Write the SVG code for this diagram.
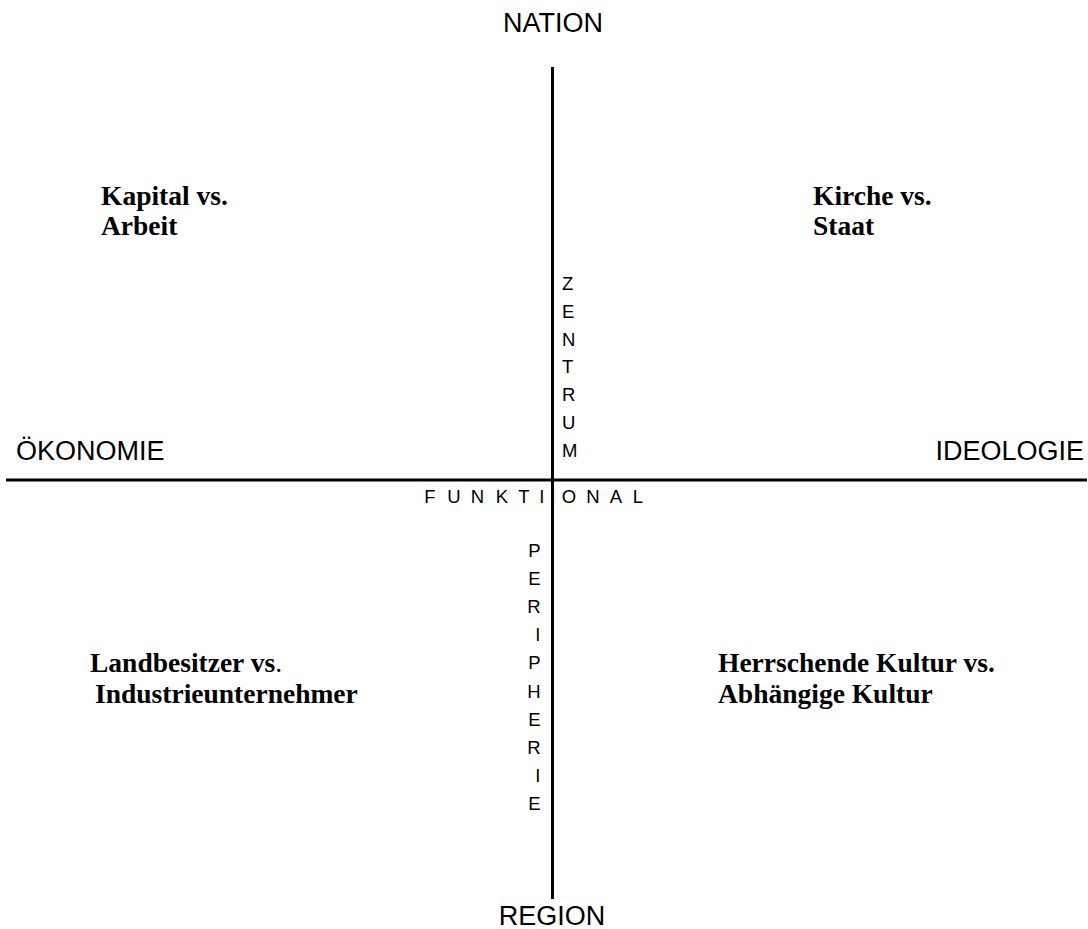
<svg xmlns="http://www.w3.org/2000/svg" width="1088" height="929" viewBox="0 0 1088 929">
<style>
.axis{font-family:"Liberation Sans",Arial,sans-serif;font-size:27px;fill:#000}
.small{font-family:"Liberation Sans",Arial,sans-serif;font-size:18.5px;fill:#000}
.quad{font-family:"Liberation Serif","Times New Roman",serif;font-size:27.5px;font-weight:bold;fill:#000}
.line{stroke:#000;stroke-width:3;fill:none}
</style>
<rect width="1088" height="929" fill="#fff"/>
<g id="connectors">
<line class="line" x1="552.5" y1="67" x2="552.5" y2="899"/>
<line class="line" x1="6" y1="480" x2="1087" y2="480"/>
</g>
<g id="nation"><text class="axis" x="553" y="32" text-anchor="middle">NATION</text></g>
<g id="region"><text class="axis" x="552" y="925" text-anchor="middle">REGION</text></g>
<g id="oekonomie"><text class="axis" x="16" y="460">ÖKONOMIE</text></g>
<g id="ideologie"><text class="axis" x="1084" y="460" text-anchor="end">IDEOLOGIE</text></g>
<g id="zentrum"><text class="small" x="562" y="290"><tspan x="562" y="290">Z</tspan><tspan x="562" y="317.8">E</tspan><tspan x="562" y="345.6">N</tspan><tspan x="562" y="373.4">T</tspan><tspan x="562" y="401.2">R</tspan><tspan x="562" y="429">U</tspan><tspan x="562" y="456.8">M</tspan></text></g>
<g id="peripherie"><text class="small" text-anchor="end"><tspan x="540.5" y="556.7">P</tspan><tspan x="540.5" y="584.9">E</tspan><tspan x="540.5" y="613">R</tspan><tspan x="540.5" y="641.2">I</tspan><tspan x="540.5" y="669.3">P</tspan><tspan x="540.5" y="697.5">H</tspan><tspan x="540.5" y="725.6">E</tspan><tspan x="540.5" y="753.8">R</tspan><tspan x="540.5" y="781.9">I</tspan><tspan x="540.5" y="810">E</tspan></text></g>
<g id="funktional"><text class="small" y="503" text-anchor="middle" x="430 454 477.5 502 524 541.7 569 593 616 638">FUNKTIONAL</text></g>
<g id="kapital"><text class="quad" x="101" y="205">Kapital vs.</text><text class="quad" x="101" y="235">Arbeit</text></g>
<g id="kirche"><text class="quad" x="813" y="205">Kirche vs.</text><text class="quad" x="813" y="235">Staat</text></g>
<g id="landbesitzer"><text class="quad" x="90" y="672">Landbesitzer vs<tspan font-weight="normal">.</tspan></text><text class="quad" x="90" y="703"> <tspan x="95">Industrieunternehmer</tspan></text></g>
<g id="kultur"><text class="quad" x="718" y="672">Herrschende Kultur vs.</text><text class="quad" x="718" y="703">Abhängige Kultur</text></g>
</svg>
